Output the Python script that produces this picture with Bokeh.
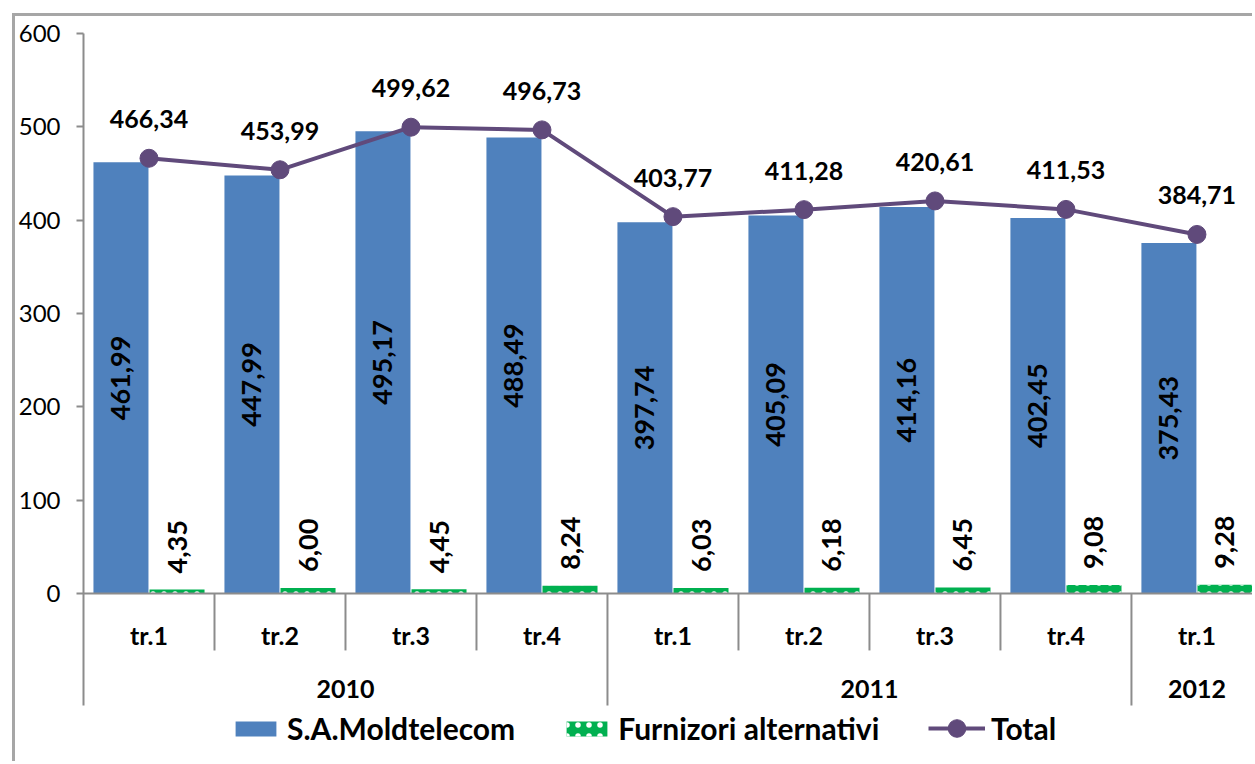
import numpy as np
from bokeh.plotting import figure
from bokeh.models import (ColumnDataSource, Range1d, FixedTicker, Span, Legend,
                          LegendItem)
from bokeh.core.properties import value
from bokeh.embed import file_html
from bokeh.resources import INLINE

# ---- data ----
quarters = ["tr.1", "tr.2", "tr.3", "tr.4", "tr.1", "tr.2", "tr.3", "tr.4", "tr.1"]
years = ["2010", "2010", "2010", "2010", "2011", "2011", "2011", "2011", "2012"]
moldtelecom = [461.99, 447.99, 495.17, 488.49, 397.74, 405.09, 414.16, 402.45, 375.43]
alternativi = [4.35, 6.00, 4.45, 8.24, 6.03, 6.18, 6.45, 9.08, 9.28]
total = [466.34, 453.99, 499.62, 496.73, 403.77, 411.28, 420.61, 411.53, 384.71]
y_ticks = [0, 100, 200, 300, 400, 500, 600]

BLUE = "#4F81BD"
GREEN = "#00B050"
PURPLE = "#604A7B"
GRAY = "#8c8c8c"
FONT = "Lato"


def fmt(v):
    return f"{v:.2f}".replace(".", ",")


x = np.arange(len(quarters))
src = ColumnDataSource(dict(
    x=x, x_blue=x - 0.214, x_green=x + 0.214,
    mt=moldtelecom, alt=alternativi, tot=total,
    mt_mid=[v / 2 for v in moldtelecom],
    mt_lbl=[fmt(v) for v in moldtelecom],
    alt_lbl=[fmt(v) for v in alternativi],
    tot_lbl=[fmt(v) for v in total],
    q=quarters,
))

p = figure(width=1240, height=748,
           x_range=Range1d(-0.5, 8.447), y_range=Range1d(-183.2, 600),
           x_axis_type=None, output_backend="svg", toolbar_location=None,
           min_border_left=68, min_border_right=0, min_border_top=17,
           min_border_bottom=0)
p.styles = {"border-left": "3px solid #a6a6a6", "border-top": "3px solid #a6a6a6",
            "margin-left": "12px", "margin-top": "13px"}
p.ygrid.grid_line_color = None
p.xgrid.grid_line_color = None
p.outline_line_color = None
p.background_fill_color = "white"
p.border_fill_color = "white"

ax = p.yaxis[0]
ax.ticker = FixedTicker(ticks=y_ticks)
ax.bounds = (-120, 600)
ax.axis_line_color = GRAY
ax.axis_line_width = 2
ax.major_tick_line_color = GRAY
ax.major_tick_line_width = 2
ax.major_tick_out = 7
ax.major_tick_in = 0
ax.minor_tick_out = 0
ax.minor_tick_in = 0
ax.major_label_text_font = FONT
ax.major_label_text_font_size = "24px"
ax.major_label_text_color = "black"
ax.major_label_standoff = 16

blue = p.vbar(x="x_blue", top="mt", bottom=0, width=0.42, source=src,
              fill_color=BLUE, line_color=None)
green = p.vbar(x="x_green", top="alt", bottom=0, width=0.42, source=src,
               fill_color=GREEN, line_color=None, hatch_pattern="dot",
               hatch_color="white", hatch_scale=11, hatch_weight=1.2)

p.add_layout(Span(location=0, dimension="width", line_color=GRAY, line_width=2))

# category separators
bounds = [i + 0.5 for i in range(len(quarters) - 1)]
ends = [-120 if years[i] != years[i + 1] else -61 for i in range(len(quarters) - 1)]
p.segment(x0=bounds, y0=[0] * len(bounds), x1=bounds, y1=ends,
          line_color=GRAY, line_width=2)

line = p.line("x", "tot", source=src, line_color=PURPLE, line_width=4)
dots = p.scatter("x", "tot", source=src, size=18, fill_color=PURPLE,
                 line_color=PURPLE)

F = value(FONT)
# labels
p.text(x="x_blue", y="mt_mid", text="mt_lbl", source=src, angle=np.pi / 2,
       text_align="center", text_baseline="middle", text_font=F,
       text_font_style="bold", text_font_size="27px", text_color="black")
p.text(x="x_green", y="alt", text="alt_lbl", source=src, angle=np.pi / 2,
       text_align="left", text_baseline="middle", y_offset=-16, text_font=F,
       text_font_style="bold", text_font_size="27px", text_color="black")
p.text(x="x", y="tot", text="tot_lbl", source=src, text_align="center",
       text_baseline="alphabetic", y_offset=-39, text_font=F,
       text_font_style="bold", text_font_size="25px", text_color="black")

p.text(x="x", y=-44, text="q", source=src, text_align="center",
       text_baseline="middle", text_font=F, text_font_style="bold",
       text_font_size="25px", text_color="black")

yr_names = list(dict.fromkeys(years))
yr_pos = [float(np.mean([i for i, y in enumerate(years) if y == n])) for n in yr_names]
p.text(x=yr_pos, y=[-102] * len(yr_pos), text=yr_names, text_align="center",
       text_baseline="middle", text_font=F, text_font_style="bold",
       text_font_size="25px", text_color="black")

legend_style = dict(orientation="horizontal", label_standoff=6, spacing=46,
                    padding=0, margin=0, border_line_color=None,
                    background_fill_alpha=0, label_text_font=FONT,
                    label_text_font_style="bold", label_text_font_size="30px",
                    label_text_color="black")
legend = Legend(items=[
    LegendItem(label="S.A.Moldtelecom", renderers=[blue]),
    LegendItem(label="Furnizori alternativi", renderers=[green]),
], location=(147, 18), glyph_width=51, glyph_height=19, **legend_style)
p.add_layout(legend, "center")

legend2 = Legend(items=[
    LegendItem(label="Total", renderers=[line, dots]),
], location=(845, 14), glyph_width=57, glyph_height=44, **legend_style)
p.add_layout(legend2, "center")

open("out.html", "w").write(file_html(p, INLINE))
